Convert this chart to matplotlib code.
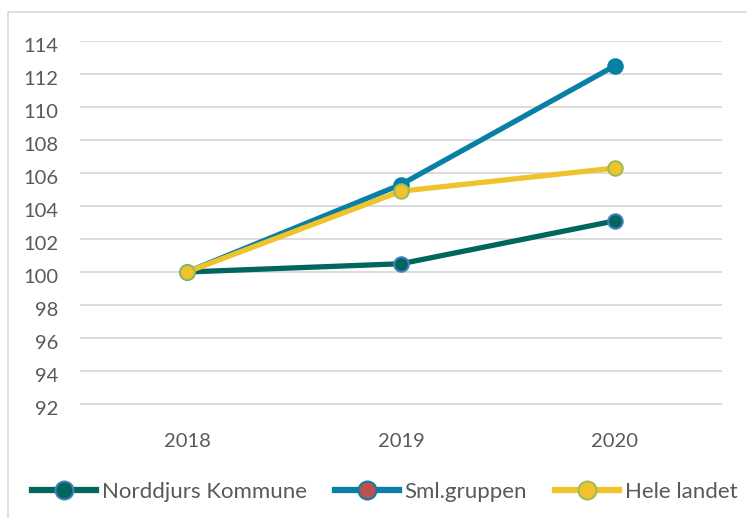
import matplotlib
matplotlib.use("Agg")
import matplotlib.pyplot as plt
from matplotlib.lines import Line2D
from matplotlib.patches import Rectangle
from matplotlib.transforms import ScaledTranslation

years = ["2018", "2019", "2020"]
norddjurs = [100.0, 100.5, 103.1]
sml_gruppen = [100.0, 105.3, 112.5]
hele_landet = [100.0, 104.9, 106.3]
series_names = ["Norddjurs Kommune", "Sml.gruppen", "Hele landet"]
yticks = list(range(92, 115, 2))

plt.rcParams['font.family'] = ['Lato', 'DejaVu Sans']
txt = '#595959'

W, H = 747, 518
fig = plt.figure(figsize=(W / 100, H / 100), dpi=100)
ax = fig.add_axes([80 / W, 1 - 437 / H, (722 - 80) / W, (437 - 41) / H])

fig.patches.append(Rectangle((8 / W, -0.1), 1.2, 1.1 - 12 / H, transform=fig.transFigure,
                             fill=False, edgecolor='#d9d9d9', linewidth=1.2, zorder=0))

x = list(range(len(years)))
styles = [
    dict(color='#00665E', mfc='#00665E', mec='#4A7EC4'),
    dict(color='#0A7FA6', mfc='#0A7FA6', mec='#0A7FA6'),
    dict(color='#F0C32C', mfc='#F0C32C', mec='#9BBB59'),
]
for vals, st in zip([norddjurs, sml_gruppen, hele_landet], styles):
    ax.plot(x, vals, color=st['color'], lw=3.8, marker='o', ms=10.5,
            mfc=st['mfc'], mec=st['mec'], mew=1.4, solid_capstyle='round', zorder=3)

ax.set_xlim(-0.5, 2.5)
ax.set_ylim(90, 114)
ax.set_yticks(yticks)
ax.set_xticks(x)
ax.set_xticklabels(years)
ax.grid(axis='y', color='#d9d9d9', lw=1.3)
ax.set_axisbelow(True)
for s in ax.spines.values():
    s.set_visible(False)
ax.tick_params(axis='both', length=0, labelsize=14.5, colors=txt)
ax.tick_params(axis='y', pad=15.5)
ax.tick_params(axis='x', pad=-3)
off = ScaledTranslation(0, -4 / 100, fig.dpi_scale_trans)
for lbl in ax.get_yticklabels():
    lbl.set_transform(lbl.get_transform() + off)

handles = [
    Line2D([], [], color='#00665E', lw=4.5, marker='o', ms=13, mfc='#00665E', mec='#4A7EC4', mew=1.4),
    Line2D([], [], color='#0A7FA6', lw=4.5, marker='o', ms=13, mfc='#C0504D', mec='#0A7FA6', mew=1.4),
    Line2D([], [], color='#F0C32C', lw=4.5, marker='o', ms=13, mfc='#F0C32C', mec='#9BBB59', mew=1.4),
]
leg = fig.legend(handles, series_names, loc='center', bbox_to_anchor=(0.515, 1 - 492 / H),
                 ncol=3, frameon=False, fontsize=16, handlelength=2.9, columnspacing=1.25,
                 handletextpad=0.25)
for t in leg.get_texts():
    t.set_color(txt)

fig.savefig("out.png", dpi=100)
